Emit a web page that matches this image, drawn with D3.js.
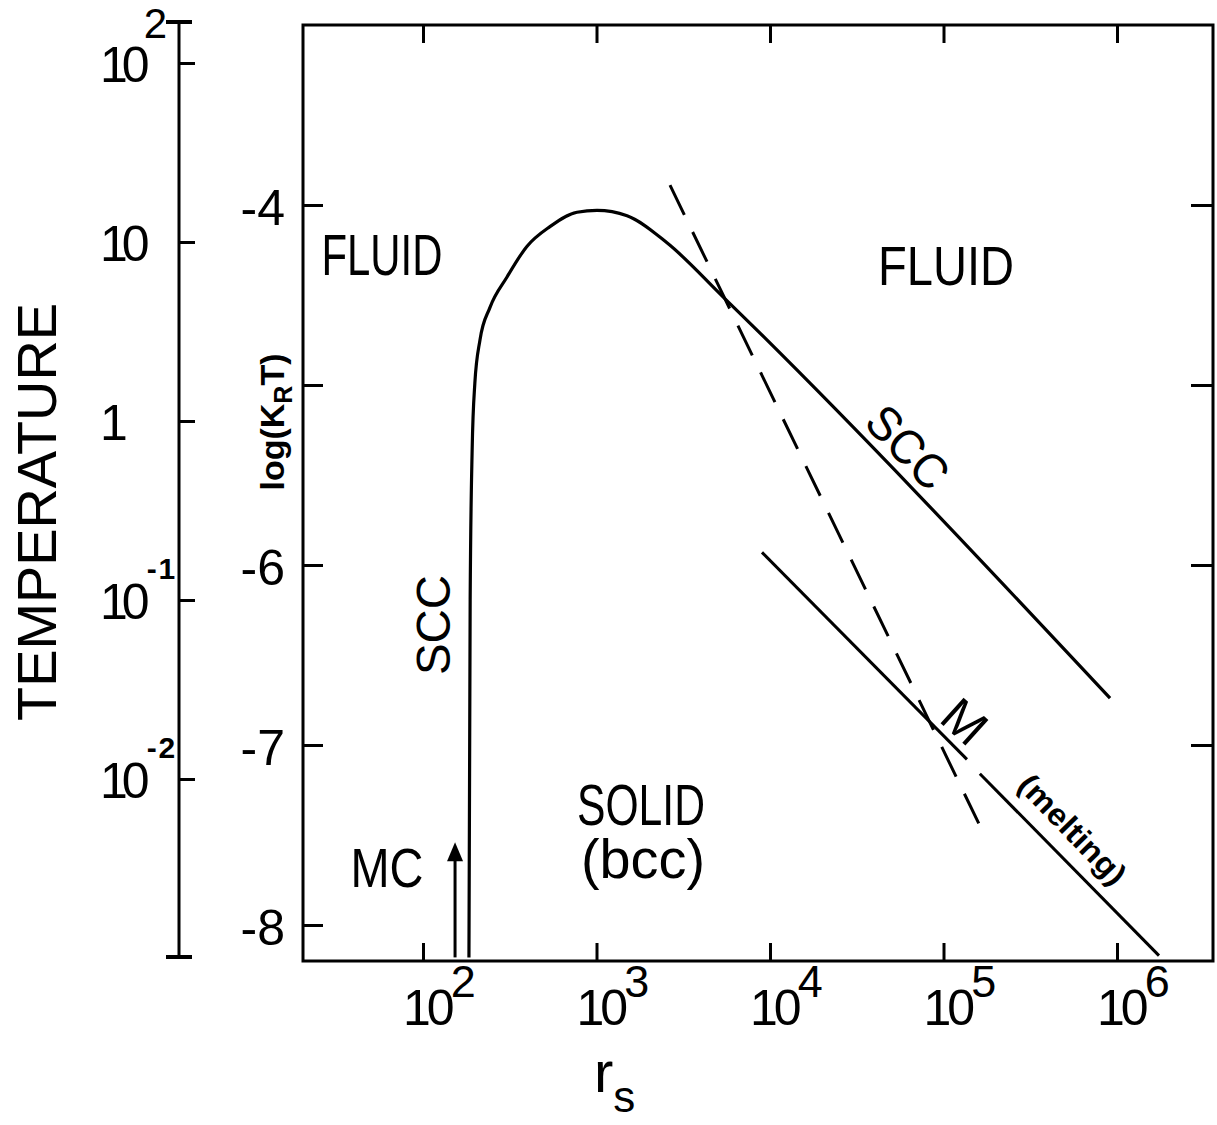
<!DOCTYPE html>
<html>
<head>
<meta charset="utf-8">
<script src="https://cdn.jsdelivr.net/npm/d3@7"></script>
<style>
    body { margin: 0; background: #fff; }
    text { font-family: "Liberation Sans", Arial, sans-serif; fill: #000; }
</style>
</head>
<body>
<script>
//chart values
var rsTicks = [1e2, 1e3, 1e4, 1e5, 1e6];
var rsTickExp = ["2", "3", "4", "5", "6"];
var logTicks = [-4, -5, -6, -7, -8];
var logTickLabels = ["-4", "", "-6", "-7", "-8"];
var tempTicks = [100, 10, 1, 0.1, 0.01];
var tempBase = ["10", "10", "1", "10", "10"];
var tempExp = ["2", "", "", "-1", "-2"];

//SCC boundary (solid curve)
var sccRs = [184, 187, 192, 199, 213, 243, 305, 397, 539, 772, 1007, 1500, 2548, 5360, 912000];
var sccLogKT = [-8.18, -6.19, -5.36, -4.99, -4.75, -4.57, -4.40, -4.23, -4.12, -4.04, -4.03, -4.06, -4.21, -4.51, -6.74];

//melting line M, two pieces
var meltRs = [[8990, 136500], [162000, 1746000]];
var meltLogKT = [[-5.93, -7.08], [-7.16, -8.17]];

//dashed line
var dashRs = [2652, 178000];
var dashLogKT = [-3.89, -7.53];

//MC arrow
var mcR = 153;
var mcLogKT = [-8.18, -7.54];

(function () {
    var width = 1217, height = 1125;

    var svg = d3.select("body").append("svg")
        .attr("width", width)
        .attr("height", height);

    var x = d3.scaleLog().domain([20.34, 3.575e6]).range([303, 1213]);
    var y = d3.scaleLinear().domain([-8.2, -3]).range([961, 25]);
    var t = d3.scaleLog().domain([0.01, 100]).range([779, 63]);

    //frame
    svg.append("rect")
        .attr("x", x.range()[0]).attr("y", y.range()[1])
        .attr("width", x.range()[1] - x.range()[0])
        .attr("height", y.range()[0] - y.range()[1])
        .attr("fill", "none").attr("stroke", "#000").attr("stroke-width", 3);

    //inner ticks
    function styleAxis(g) {
        g.select(".domain").remove();
        g.selectAll(".tick line").attr("stroke", "#000").attr("stroke-width", 3);
    }
    svg.append("g").attr("transform", "translate(0," + y.range()[0] + ")")
        .call(d3.axisBottom(x).tickValues(rsTicks).tickSize(-18).tickFormat(""))
        .call(styleAxis);
    svg.append("g").attr("transform", "translate(0," + y.range()[1] + ")")
        .call(d3.axisTop(x).tickValues(rsTicks).tickSize(-18).tickFormat(""))
        .call(styleAxis);
    svg.append("g").attr("transform", "translate(" + x.range()[0] + ",0)")
        .call(d3.axisLeft(y).tickValues(logTicks).tickSize(-20).tickFormat(""))
        .call(styleAxis);
    svg.append("g").attr("transform", "translate(" + x.range()[1] + ",0)")
        .call(d3.axisRight(y).tickValues(logTicks.slice(0, 4)).tickSize(-22).tickFormat(""))
        .call(styleAxis);

    //x tick labels 10^n
    var xl = svg.selectAll(".xlab").data(rsTicks).enter().append("text")
        .attr("class", "xlab")
        .attr("x", function (d) { return x(d) - 20; })
        .attr("y", 1025)
        .style("font-size", "50px");
    xl.append("tspan").attr("letter-spacing", "-4").text("10");
    xl.append("tspan").attr("dy", -28).style("font-size", "45px")
        .text(function (d, i) { return rsTickExp[i]; });

    //y tick labels
    svg.selectAll(".ylab").data(logTicks).enter().append("text")
        .attr("class", "ylab")
        .attr("x", 285)
        .attr("y", function (d) { return y(d) + 20; })
        .attr("text-anchor", "end")
        .style("font-size", "50px")
        .text(function (d, i) { return logTickLabels[i]; });

    //temperature axis
    var tx = 179;
    svg.append("line")
        .attr("x1", tx).attr("x2", tx)
        .attr("y1", 22).attr("y2", 957)
        .attr("stroke", "#000").attr("stroke-width", 3);
    svg.selectAll(".cap").data([22, 957]).enter().append("line")
        .attr("x1", tx - 13).attr("x2", tx + 13)
        .attr("y1", function (d) { return d; }).attr("y2", function (d) { return d; })
        .attr("stroke", "#000").attr("stroke-width", 4);
    svg.append("g").attr("transform", "translate(" + tx + ",0)")
        .call(d3.axisRight(t).tickValues(tempTicks).tickSize(16).tickFormat(""))
        .call(styleAxis);

    var tl = svg.selectAll(".tlab").data(tempTicks).enter().append("text")
        .attr("class", "tlab")
        .attr("x", 100)
        .attr("y", function (d) { return t(d) + 19; })
        .style("font-size", "50px");
    tl.append("tspan").attr("letter-spacing", "-6")
        .text(function (d, i) { return tempBase[i]; });
    tl.append("tspan")
        .attr("dx", function (d, i) { return tempExp[i].charAt(0) == "-" ? 3 : 0; })
        .attr("dy", function (d, i) { return tempExp[i].charAt(0) == "-" ? -40 : -44; })
        .attr("letter-spacing", function (d, i) { return tempExp[i].charAt(0) == "-" ? 2 : 0; })
        .style("font-size", function (d, i) { return tempExp[i].charAt(0) == "-" ? "30px" : "42px"; })
        .style("font-weight", function (d, i) { return tempExp[i].charAt(0) == "-" ? "bold" : "normal"; })
        .text(function (d, i) { return tempExp[i]; });

    //axis titles
    svg.append("text")
        .attr("transform", "translate(56,512) rotate(-90)")
        .attr("text-anchor", "middle")
        .style("font-size", "56px")
        .attr("textLength", 418).attr("lengthAdjust", "spacingAndGlyphs")
        .text("TEMPERATURE");

    var lk = svg.append("text")
        .attr("transform", "translate(284,422) rotate(-90)")
        .attr("text-anchor", "middle")
        .style("font-size", "34px").style("font-weight", "bold");
    lk.append("tspan").text("log(K");
    lk.append("tspan").attr("dy", 8).style("font-size", "25px").text("R");
    lk.append("tspan").attr("dy", -8).text("T)");

    var rs = svg.append("text")
        .attr("x", 594).attr("y", 1092)
        .style("font-size", "58px");
    rs.append("tspan").text("r");
    rs.append("tspan").attr("dx", 0).attr("dy", 20).style("font-size", "44px").text("s");

    //curves
    var line = d3.line()
        .x(function (d) { return x(d[0]); })
        .y(function (d) { return y(d[1]); });

    svg.append("path")
        .datum(d3.zip(sccRs, sccLogKT))
        .attr("d", line.curve(d3.curveMonotoneX))
        .attr("fill", "none").attr("stroke", "#000").attr("stroke-width", 3.2);

    line.curve(d3.curveLinear);
    meltRs.forEach(function (seg, i) {
        svg.append("path")
            .datum(d3.zip(seg, meltLogKT[i]))
            .attr("d", line)
            .attr("fill", "none").attr("stroke", "#000").attr("stroke-width", 3);
    });

    svg.append("path")
        .datum(d3.zip(dashRs, dashLogKT))
        .attr("d", line)
        .attr("fill", "none").attr("stroke", "#000").attr("stroke-width", 3)
        .attr("stroke-dasharray", "33,19");

    //MC arrow
    var ax = x(mcR), ay0 = y(mcLogKT[0]), ay1 = y(mcLogKT[1]);
    svg.append("line")
        .attr("x1", ax).attr("x2", ax).attr("y1", ay0).attr("y2", ay1 + 12)
        .attr("stroke", "#000").attr("stroke-width", 3);
    svg.append("path")
        .attr("d", "M" + ax + "," + ay1 + "L" + (ax - 8) + "," + (ay1 + 19) + "L" + (ax + 8) + "," + (ay1 + 19) + "Z")
        .attr("fill", "#000");

    //region labels
    function label(txt, tx_, ty, size, len, rot, weight) {
        var el = svg.append("text")
            .attr("transform", "translate(" + tx_ + "," + ty + ") rotate(" + (rot || 0) + ")")
            .attr("text-anchor", "middle")
            .style("font-size", size + "px")
            .text(txt);
        if (len) el.attr("textLength", len).attr("lengthAdjust", "spacingAndGlyphs");
        if (weight) el.style("font-weight", weight);
        return el;
    }
    label("FLUID", 382, 275, 58, 121);
    label("FLUID", 946, 285, 56, 136);
    label("SCC", 450, 625, 48, 100, -90);
    label("SCC", 908, 447, 48, 96, 46).attr("y", 17);
    label("SOLID", 641, 825, 57, 128);
    label("(bcc)", 643, 878, 56, 124);
    label("MC", 387, 887, 55, 73);
    label("M", 965, 721, 50, 0, 42).attr("y", 18);
    label("(melting)", 1072, 830, 31, 140, 46, "bold").attr("y", 10);
})();
</script>
</body>
</html>
